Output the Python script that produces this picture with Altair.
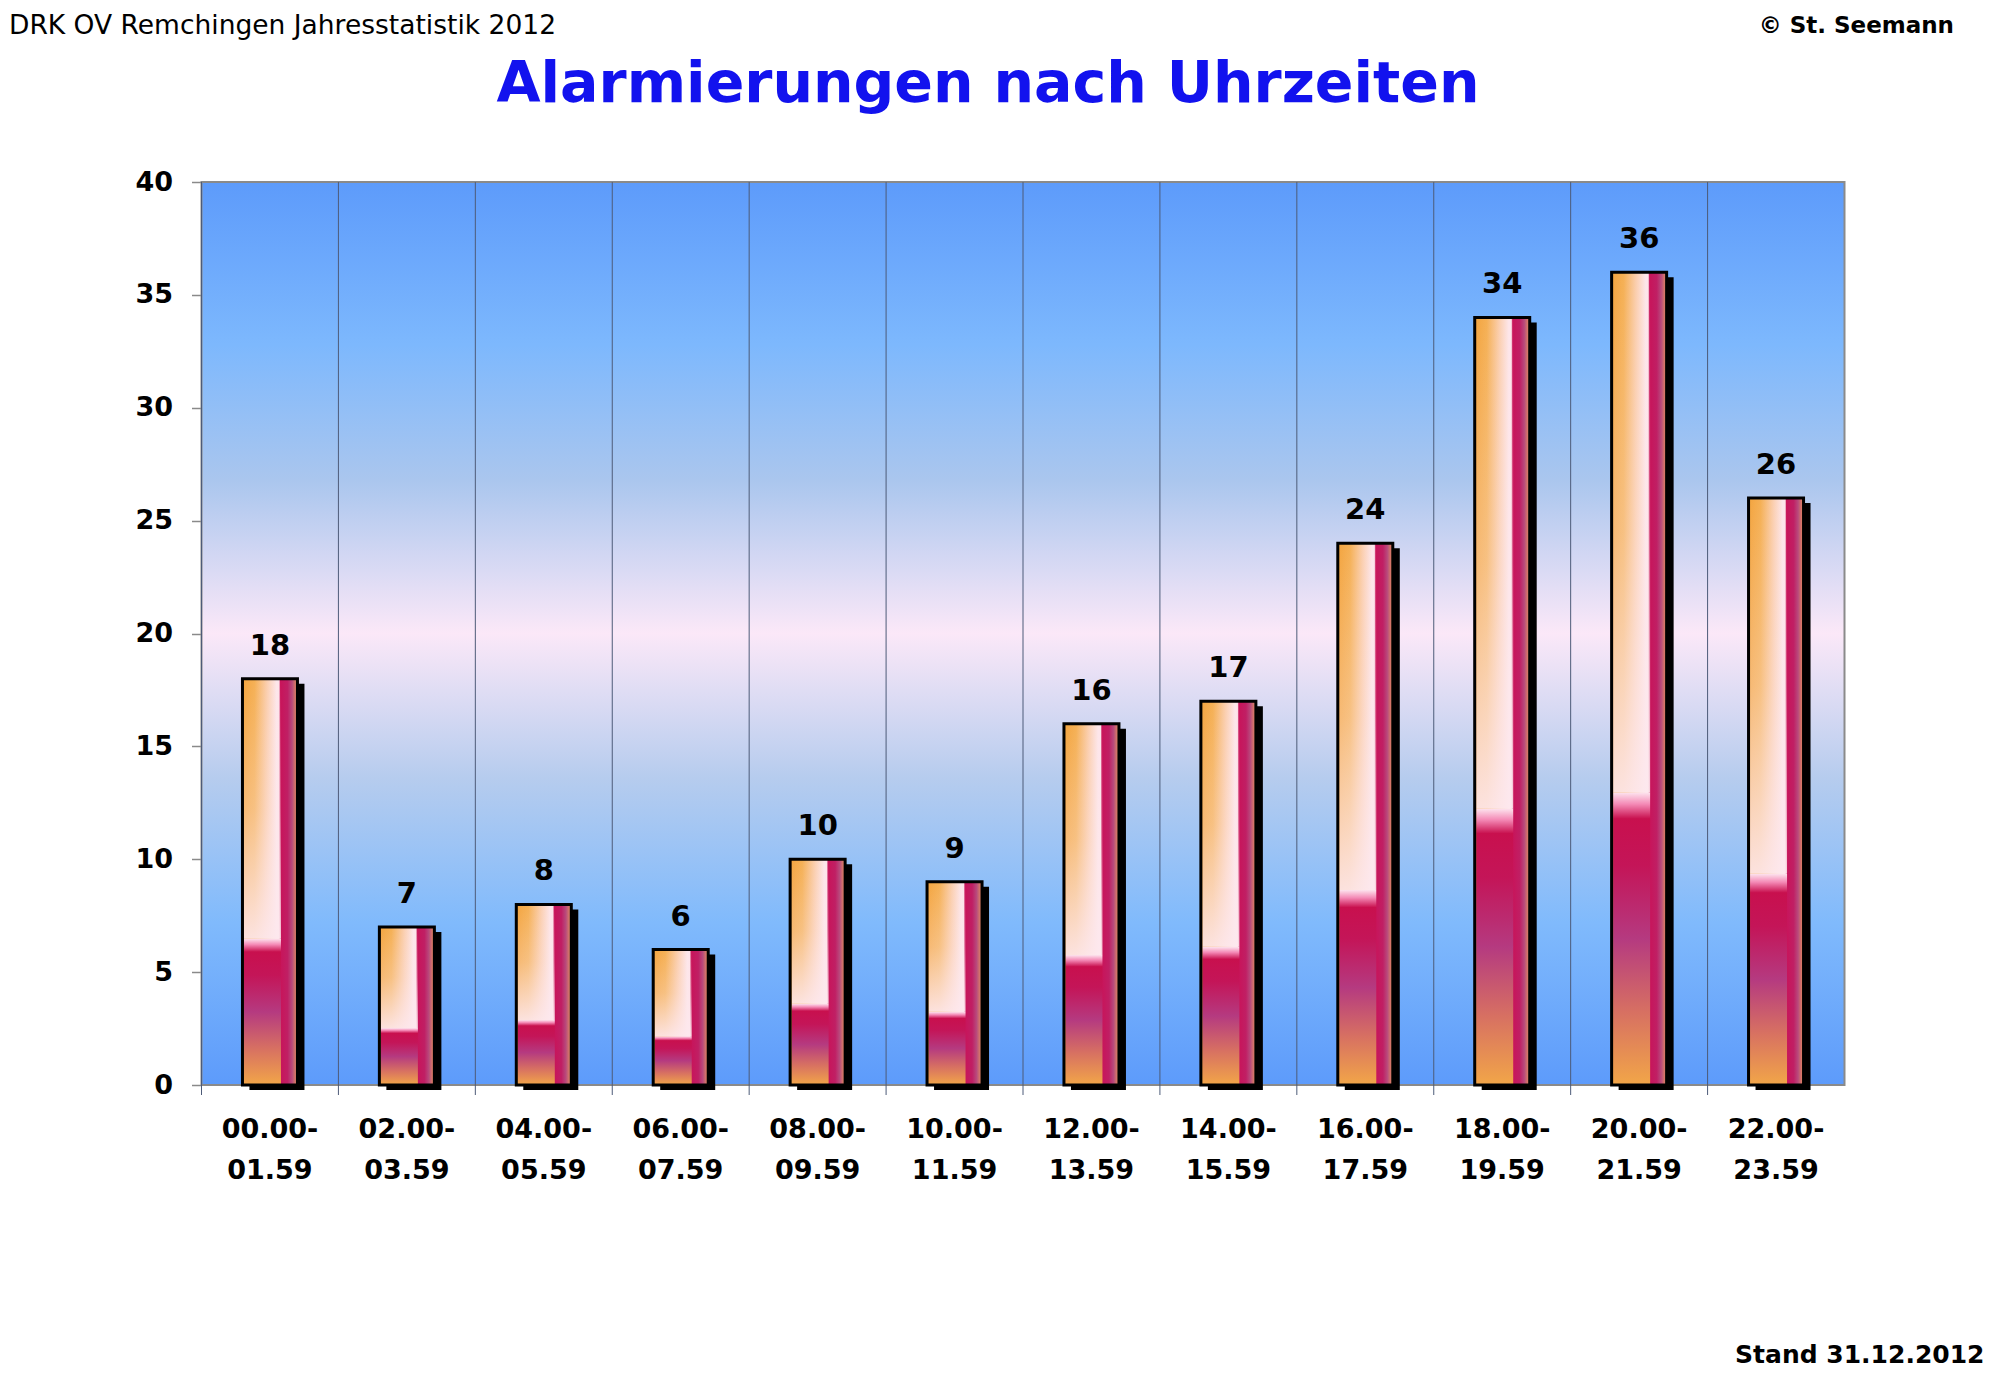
import altair as alt
import pandas as pd

# ---- data ----
categories = ["00.00-01.59", "02.00-03.59", "04.00-05.59", "06.00-07.59",
              "08.00-09.59", "10.00-11.59", "12.00-13.59", "14.00-15.59",
              "16.00-17.59", "18.00-19.59", "20.00-21.59", "22.00-23.59"]
values = [18, 7, 8, 6, 10, 9, 16, 17, 24, 34, 36, 26]
y_ticks = [0, 5, 10, 15, 20, 25, 30, 35, 40]

title_text = "Alarmierungen nach Uhrzeiten"
top_left_text = "DRK OV Remchingen Jahresstatistik 2012"
top_right_text = "© St. Seemann"
bottom_right_text = "Stand 31.12.2012"

df = pd.DataFrame({"cat": categories, "v": values})
one = pd.DataFrame({"k": [0]})

W, H = 1643, 903
FONT = "DejaVu Sans"


def stops(pairs):
    return [alt.GradientStop(color=c, offset=o) for o, c in pairs]


bg_grad = alt.LinearGradient(
    gradient="linear", x1=0, x2=0, y1=0, y2=1,
    stops=stops([(0.0, "#5d9bfb"), (0.18, "#7db8fd"), (0.33, "#aac6ee"),
                 (0.5, "#fbe8f8"), (0.66, "#b6ccee"), (0.82, "#80bafc"),
                 (1.0, "#5d9bfb")]))

bar_grad = alt.LinearGradient(
    gradient="linear", x1=0, x2=1, y1=0, y2=0,
    stops=stops([(0.0, "#f3a43e"), (0.22, "#f5b055"), (0.45, "#fbcfb0"),
                 (0.62, "#fde6ea"), (0.665, "#fde4ea"), (0.69, "#c8145a"),
                 (0.82, "#c01f64"), (0.90, "#b84a7c"), (1.0, "#e8945c")]))

fade_grad = alt.LinearGradient(
    gradient="linear", x1=0, x2=0, y1=0, y2=1,
    stops=stops([(0.0, "rgba(253,232,236,0)"), (0.5, "rgba(253,232,236,0.3)"),
                 (1.0, "rgba(253,232,238,0.9)")]))

low_grad = alt.LinearGradient(
    gradient="linear", x1=0, x2=0, y1=0, y2=1,
    stops=stops([(0.0, "#fde4ee"), (0.04, "#f48ab6"), (0.09, "#c8104e"),
                 (0.25, "#c41558"), (0.5, "#b53a80"), (0.75, "#d77062"),
                 (1.0, "#f2a648")]))

x_axis = alt.Axis(
    title=None, labelAngle=0, ticks=False, tickSize=0, domain=False, grid=False,
    labelFont=FONT, labelFontSize=27, labelFontWeight="bold", labelColor="black",
    labelLineHeight=41, labelPadding=31, labelBaseline="top",
    labelExpr="[slice(datum.label, 0, 6), slice(datum.label, 6)]")

x_scale = alt.Scale(paddingInner=0, paddingOuter=0)
X = alt.X("cat:N", sort=categories, scale=x_scale, axis=x_axis)

y_axis = alt.Axis(
    title=None, values=y_ticks, tickSize=10, tickColor="#8a8a8a", tickWidth=1.5,
    domain=True, domainColor="#8a8a8a", domainWidth=2, grid=False,
    labelFont=FONT, labelFontSize=27, labelFontWeight="bold", labelColor="black",
    labelPadding=19)
y_scale = alt.Scale(domain=[0, 40], nice=False)
Y = alt.Y("v:Q", scale=y_scale, axis=y_axis)

base = alt.Chart(df).transform_calculate(low="datum.v * 0.36")

background = alt.Chart(one).mark_rect(
    fill=bg_grad, stroke="#8a8a8a", strokeWidth=2).encode(
    x=alt.value(0), x2=alt.value(W), y=alt.value(0), y2=alt.value(H))

grid = alt.Chart(df).mark_rule(color="#4d5b78", strokeWidth=1).encode(
    x=alt.X("cat:N", sort=categories, scale=x_scale, axis=x_axis, bandPosition=0),
    y=alt.value(0), y2=alt.value(H + 10))

shadow = base.mark_bar(
    color="black", size=55, xOffset=7, yOffset=5).encode(x=X, y=Y)

bar_fill = base.mark_bar(fill=bar_grad, size=55).encode(x=X, y=Y)

bar_fade = base.mark_bar(fill=fade_grad, size=37, xOffset=-7.5).encode(
    x=X, y=Y, y2="low:Q")

bar_low = base.mark_bar(fill=low_grad, size=37, xOffset=-7.5).encode(
    x=X, y=alt.Y("low:Q", scale=y_scale, axis=y_axis))

bar_outline = base.mark_bar(
    fillOpacity=0, stroke="black", strokeWidth=3, size=55).encode(x=X, y=Y)

labels = base.mark_text(
    dy=-33, font=FONT, fontSize=29, fontWeight="bold", color="black").encode(
    x=X, y=Y, text="v:Q")

title = alt.Chart(one).mark_text(
    font=FONT, fontSize=57, fontWeight="bold", color="#1212ee").encode(
    x=alt.value(786.5), y=alt.value(-97), text=alt.value(title_text))

t_left = alt.Chart(one).mark_text(
    font=FONT, fontSize=26.5, color="black", align="left").encode(
    x=alt.value(-192.5), y=alt.value(-156.5), text=alt.value(top_left_text))

t_right = alt.Chart(one).mark_text(
    font=FONT, fontSize=23, fontWeight="bold", color="black", align="right").encode(
    x=alt.value(1752.5), y=alt.value(-156.5), text=alt.value(top_right_text))

t_bottom = alt.Chart(one).mark_text(
    font=FONT, fontSize=25, fontWeight="bold", color="black", align="right").encode(
    x=alt.value(1783), y=alt.value(1173), text=alt.value(bottom_right_text))

chart = alt.layer(
    background, grid, shadow, bar_fill, bar_fade, bar_low, bar_outline, labels,
    title, t_left, t_right, t_bottom
).properties(
    width=W, height=H,
    autosize=alt.AutoSizeParams(type="none"),
    padding={"left": 193.5, "top": 174, "right": 145, "bottom": 286},
    background="white",
).configure_view(stroke=None)

chart.save("out.html", embed_options={"renderer": "svg", "actions": False})
